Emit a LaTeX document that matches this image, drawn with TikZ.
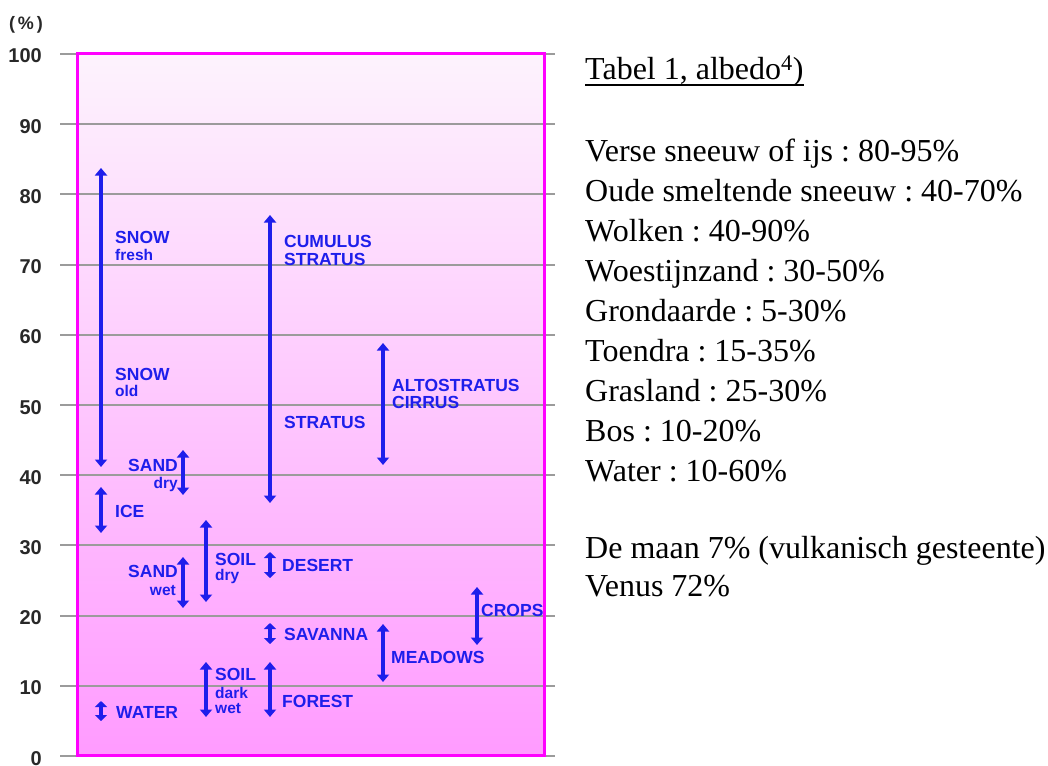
\documentclass[tikz,border=0pt]{standalone}
\usepackage{fontspec}
\setmainfont{Liberation Serif}
\newfontfamily\labfont{Liberation Sans}
\usetikzlibrary{arrows.meta}
\definecolor{lblue}{RGB}{30,30,235}
\definecolor{mag}{RGB}{255,0,255}
\definecolor{gridc}{RGB}{155,155,155}
\definecolor{ticktxt}{RGB}{40,40,40}
\definecolor{topfill}{RGB}{253,243,253}
\definecolor{botfill}{RGB}{255,155,255}
\frenchspacing
\begin{document}
\begin{tikzpicture}[x=1pt,y=-1pt,
  rng/.style={lblue, line width=3.1pt, {Triangle[width=12pt,length=7.5pt]}-{Triangle[width=12pt,length=7.5pt]}},
  srng/.style={lblue, line width=3.1pt, {Triangle[width=12pt,length=6pt]}-{Triangle[width=12pt,length=6pt]}},
  lab/.style={font=\labfont\bfseries\fontsize{17.5}{18}\selectfont, text=lblue, inner sep=0pt, anchor=base west},
  labr/.style={lab, anchor=base east},
  sm/.style={font=\labfont\bfseries\fontsize{15.5}{16}\selectfont, text=lblue, inner sep=0pt, anchor=base west},
  smr/.style={sm, anchor=base east},
  tick/.style={font=\labfont\bfseries\fontsize{20}{20}\selectfont, text=ticktxt, inner sep=0pt, anchor=base east},
  body/.style={font=\fontsize{32}{32}\selectfont, inner sep=0pt, anchor=base west},
  gridline/.style={gridc, line width=2pt}
]
\useasboundingbox (0,0) rectangle (1048,765);
\fill[white] (0,0) rectangle (1048,765);

% plot background
\shade[top color=topfill, bottom color=botfill] (77,54) rectangle (544,755);

% grid lines and tick labels
\foreach \i in {0,...,10}{
  \pgfmathsetmacro\yy{756-70.2*\i}
  \pgfmathtruncatemacro\val{\i*10}
  \draw[gridline] (60,\yy) -- (555,\yy);
  \node[tick] (t\i) at (42,\yy+9) {\val};
}
\node[font=\labfont\bfseries\fontsize{18}{18}\selectfont, text=ticktxt, inner sep=0pt] (pct) at (26,25) {(\,\%\,)};

% frame
\draw[mag, line width=3pt] (77,54) rectangle (544,755);

% range arrows
\coordinate (snowT) at (101,168);   \coordinate (snowB) at (101,467);
\coordinate (iceT) at (101,487);    \coordinate (iceB) at (101,533);
\coordinate (sdT) at (183,450);     \coordinate (sdB) at (183,495);
\coordinate (swT) at (183,557);     \coordinate (swB) at (183,608);
\coordinate (soT) at (206,520);     \coordinate (soB) at (206,602);
\coordinate (skT) at (206,662);     \coordinate (skB) at (206,717);
\coordinate (cuT) at (270,215);     \coordinate (cuB) at (270,503);
\coordinate (foT) at (270,662);     \coordinate (foB) at (270,717);
\coordinate (alT) at (383,343);     \coordinate (alB) at (383,465);
\coordinate (meT) at (383,624);     \coordinate (meB) at (383,682);
\coordinate (crT) at (477,587);     \coordinate (crB) at (477,645);
\coordinate (waterT) at (101,701);  \coordinate (waterB) at (101,721);
\coordinate (deT) at (270,552);     \coordinate (deB) at (270,578);
\coordinate (svT) at (270,623);     \coordinate (svB) at (270,644);

\foreach \a in {snow,ice,sd,sw,so,sk,cu,fo,al,me,cr}
  \draw[rng] (\a B) -- (\a T);
\foreach \a in {water,de,sv}
  \draw[srng] (\a B) -- (\a T);

% labels
\node[lab] (snow1) at (115,243) {SNOW};
\node[sm]  (fresh) at (115,260) {fresh};
\node[lab] (snow2) at (115,380) {SNOW};
\node[sm]  (old)   at (115,396) {old};
\node[lab] (cumu)  at (284,247) {CUMULUS};
\node[lab] (stra1) at (284,265) {STRATUS};
\node[lab] (stra2) at (284,428) {STRATUS};
\node[lab] (alto)  at (392,391) {ALTOSTRATUS};
\node[lab] (cirr)  at (392,408) {CIRRUS};
\node[labr] (sand1) at (178,471) {SAND};
\node[smr]  (dry1)  at (178,488) {dry};
\node[lab] (ice)   at (115,517) {ICE};
\node[lab] (soil1) at (215,565) {SOIL};
\node[sm]  (dry2)  at (215,580) {dry};
\node[labr] (sand2) at (178,577) {SAND};
\node[smr]  (wet1)  at (176,595) {wet};
\node[lab] (desert) at (282,571) {DESERT};
\node[lab] (savanna) at (284,640) {SAVANNA};
\node[lab] (soil2) at (215,680) {SOIL};
\node[sm]  (dark)  at (215,698) {dark};
\node[sm]  (wet2)  at (215,713) {wet};
\node[lab] (forest) at (282,707) {FOREST};
\node[lab] (water) at (116,718) {WATER};
\node[lab] (meadows) at (391,663) {MEADOWS};
\node[lab] (crops) at (481,616) {CROPS};

% right-hand text
\node[body] (title) at (585,80) {Tabel 1, albedo\textsuperscript{4})};
\draw[line width=1.4pt] ([yshift=-5pt]title.base west) -- ([yshift=-5pt]title.base east);
\node[body] (l1) at (585,161) {Verse sneeuw of ijs : 80-95\%};
\node[body] (l2) at (585,201) {Oude smeltende sneeuw : 40-70\%};
\node[body] (l3) at (585,241) {Wolken : 40-90\%};
\node[body] (l4) at (585,281) {Woestijnzand : 30-50\%};
\node[body] (l5) at (585,321) {Grondaarde : 5-30\%};
\node[body] (l6) at (585,361) {Toendra : 15-35\%};
\node[body] (l7) at (585,401) {Grasland : 25-30\%};
\node[body] (l8) at (585,441) {Bos : 10-20\%};
\node[body] (l9) at (585,481) {Water : 10-60\%};
\node[body] (l10) at (585,558) {De maan 7\% (vulkanisch gesteente)};
\node[body] (l11) at (585,596) {Venus 72\%};
\end{tikzpicture}
\end{document}
